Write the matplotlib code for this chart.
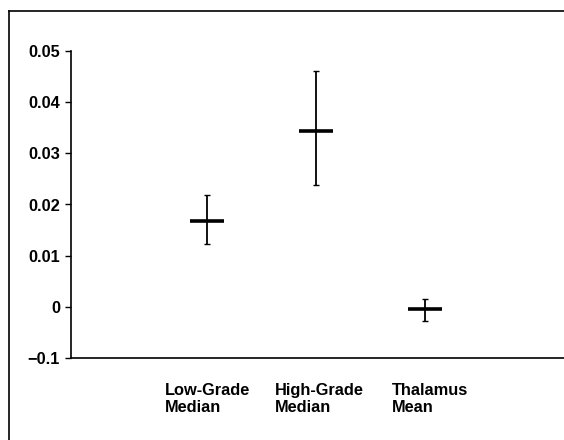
import matplotlib.pyplot as plt
from matplotlib.lines import Line2D

plt.rcParams['font.family'] = ['Liberation Sans', 'DejaVu Sans']

# --- data ---------------------------------------------
groups = ["Low-Grade\nMedian", "High-Grade\nMedian", "Thalamus\nMean"]
centres = [0.0168, 0.0344, -0.0005]
err_hi = [0.0219, 0.0460, 0.0016]
err_lo = [0.0123, 0.0239, -0.0027]
yticks = [-0.01, 0.0, 0.01, 0.02, 0.03, 0.04, 0.05]
ytick_labels = ["\u22120.1", "0", "0.01", "0.02", "0.03", "0.04", "0.05"]

# --- figure -------------------------------------------
fig = plt.figure(figsize=(5.64, 4.40), dpi=100)
ax = fig.add_axes([71 / 564, 82 / 440, 1 - 71 / 564, 307 / 440])

x = [1, 2, 3]
lower = [c - l for c, l in zip(centres, err_lo)]
upper = [h - c for c, h in zip(centres, err_hi)]
ax.errorbar(x, centres, yerr=[lower, upper], fmt='none', ecolor='black',
            elinewidth=1.3, capsize=2.5, capthick=1.0)
ax.scatter(x, centres, marker='_', s=24 ** 2, linewidths=2.6, color='black', zorder=3)

ax.set_xlim(-0.248, 4.275)
ax.set_ylim(-0.01, 0.05)
ax.set_yticks(yticks)
ax.set_yticklabels(ytick_labels, fontsize=11.8, fontweight='bold')
ax.tick_params(axis='y', length=4, width=1, pad=4)
ax.set_xticks([])

for s in ['top', 'right']:
    ax.spines[s].set_visible(False)
ax.spines['left'].set_linewidth(1.2)
ax.spines['bottom'].set_linewidth(1.2)

# category labels, left aligned below the axis
label_x = [0.615, 1.624, 2.697]
for lx, g in zip(label_x, groups):
    ax.text(lx, -0.0148, g, ha='left', va='top', fontsize=11.8,
            fontweight='bold', linespacing=1.22)

# outer frame (only top and left edge visible)
fig.add_artist(Line2D([9 / 564, 9 / 564], [0, 1 - 11 / 440],
                      transform=fig.transFigure, color='black', lw=1.2))
fig.add_artist(Line2D([9 / 564, 1], [1 - 11 / 440, 1 - 11 / 440],
                      transform=fig.transFigure, color='black', lw=1.2))

fig.savefig("out.png", dpi=100)
